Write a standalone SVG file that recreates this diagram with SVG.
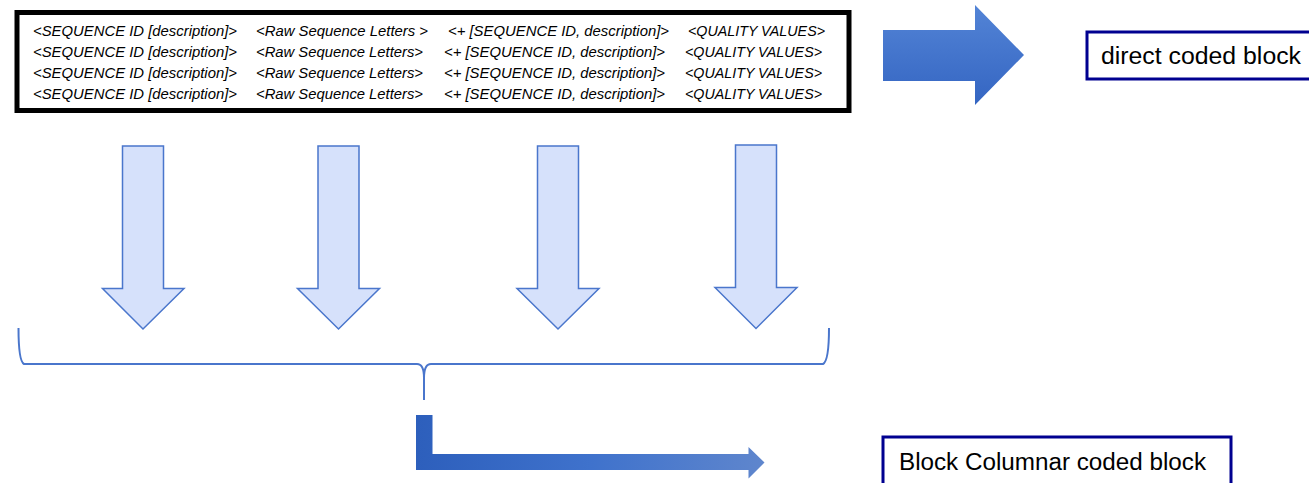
<svg xmlns="http://www.w3.org/2000/svg" width="1309" height="483" viewBox="0 0 1309 483">
<defs>
<linearGradient id="gBig" x1="0" y1="0" x2="0" y2="1">
<stop offset="0" stop-color="#5384d6"/>
<stop offset="1" stop-color="#3465c2"/>
</linearGradient>
<linearGradient id="gBent" x1="0" y1="0" x2="1" y2="0">
<stop offset="0" stop-color="#2d5fbc"/>
<stop offset="0.5" stop-color="#3f72cc"/>
<stop offset="1" stop-color="#5f86cd"/>
</linearGradient>
<style>
.rec{font-family:"Liberation Sans",Arial,sans-serif;font-style:italic;font-size:15.5px;fill:#000}
.lbl{font-family:"Liberation Sans",Arial,sans-serif;font-size:23px;fill:#000}
.down{fill:#d6e1fb;stroke:#4a76cc;stroke-width:1.5}
.box{fill:#fff;stroke:#000090;stroke-width:3}
</style>
</defs>
<rect width="1309" height="483" fill="#fff"/>
<g id="records">
<rect x="17" y="12.5" width="832" height="98" fill="#fff" stroke="#000" stroke-width="5"/>
<text class="rec" x="33" y="35.5" textLength="204" lengthAdjust="spacingAndGlyphs">&lt;SEQUENCE ID [description]&gt;</text>
<text class="rec" x="256" y="35.5" textLength="172" lengthAdjust="spacingAndGlyphs">&lt;Raw Sequence Letters &gt;</text>
<text class="rec" x="448" y="35.5" textLength="221" lengthAdjust="spacingAndGlyphs">&lt;+ [SEQUENCE ID, description]&gt;</text>
<text class="rec" x="688" y="35.5" textLength="137" lengthAdjust="spacingAndGlyphs">&lt;QUALITY VALUES&gt;</text>
<text class="rec" x="33" y="56.5" textLength="204" lengthAdjust="spacingAndGlyphs">&lt;SEQUENCE ID [description]&gt;</text>
<text class="rec" x="256" y="56.5" textLength="167" lengthAdjust="spacingAndGlyphs">&lt;Raw Sequence Letters&gt;</text>
<text class="rec" x="444" y="56.5" textLength="221" lengthAdjust="spacingAndGlyphs">&lt;+ [SEQUENCE ID, description]&gt;</text>
<text class="rec" x="685" y="56.5" textLength="137" lengthAdjust="spacingAndGlyphs">&lt;QUALITY VALUES&gt;</text>
<text class="rec" x="33" y="77.5" textLength="204" lengthAdjust="spacingAndGlyphs">&lt;SEQUENCE ID [description]&gt;</text>
<text class="rec" x="256" y="77.5" textLength="167" lengthAdjust="spacingAndGlyphs">&lt;Raw Sequence Letters&gt;</text>
<text class="rec" x="444" y="77.5" textLength="221" lengthAdjust="spacingAndGlyphs">&lt;+ [SEQUENCE ID, description]&gt;</text>
<text class="rec" x="685" y="77.5" textLength="137" lengthAdjust="spacingAndGlyphs">&lt;QUALITY VALUES&gt;</text>
<text class="rec" x="33" y="98.5" textLength="204" lengthAdjust="spacingAndGlyphs">&lt;SEQUENCE ID [description]&gt;</text>
<text class="rec" x="256" y="98.5" textLength="167" lengthAdjust="spacingAndGlyphs">&lt;Raw Sequence Letters&gt;</text>
<text class="rec" x="444" y="98.5" textLength="221" lengthAdjust="spacingAndGlyphs">&lt;+ [SEQUENCE ID, description]&gt;</text>
<text class="rec" x="685" y="98.5" textLength="137" lengthAdjust="spacingAndGlyphs">&lt;QUALITY VALUES&gt;</text>
</g>
<g id="direct-coded-block">
<rect class="box" x="1087" y="32" width="240" height="47"/>
<text class="lbl" x="1101" y="64" textLength="200" lengthAdjust="spacingAndGlyphs">direct coded block</text>
</g>
<g id="block-columnar-coded-block">
<rect class="box" x="883" y="437" width="348" height="60"/>
<text class="lbl" x="899" y="470" textLength="307" lengthAdjust="spacingAndGlyphs">Block Columnar coded block</text>
</g>
<g id="connectors">
<polygon points="883,30 975,30 975,5 1024,55 975,105 975,81 883,81" fill="url(#gBig)"/>
<polygon class="down" points="122.5,146 163.5,146 163.5,288.5 184,288.5 143,329 102.5,288.5 122.5,288.5"/>
<polygon class="down" points="318,146 359,146 359,288.5 379.5,288.5 338.5,329 297.5,288.5 318,288.5"/>
<polygon class="down" points="537.5,146 578.5,146 578.5,288.5 599,288.5 558,329 517,288.5 537.5,288.5"/>
<polygon class="down" points="735.5,145 776.5,145 776.5,287.5 797,287.5 756,328.5 715,287.5 735.5,287.5"/>
<path d="M18.5,328 C18.5,350 20,362 24,364 L417,364 C421,364 424,368 424,378 L424,400 M424,378 C424,368 427,364 431,364 L823,364 C827,362 829,350 829,328" fill="none" stroke="#4a76cc" stroke-width="2"/>
<polygon points="416,415 432.5,415 432.5,454 748.5,454 748.5,447 764.5,462.5 748.5,478.5 748.5,470 416,470" fill="url(#gBent)"/>
</g>
</svg>
